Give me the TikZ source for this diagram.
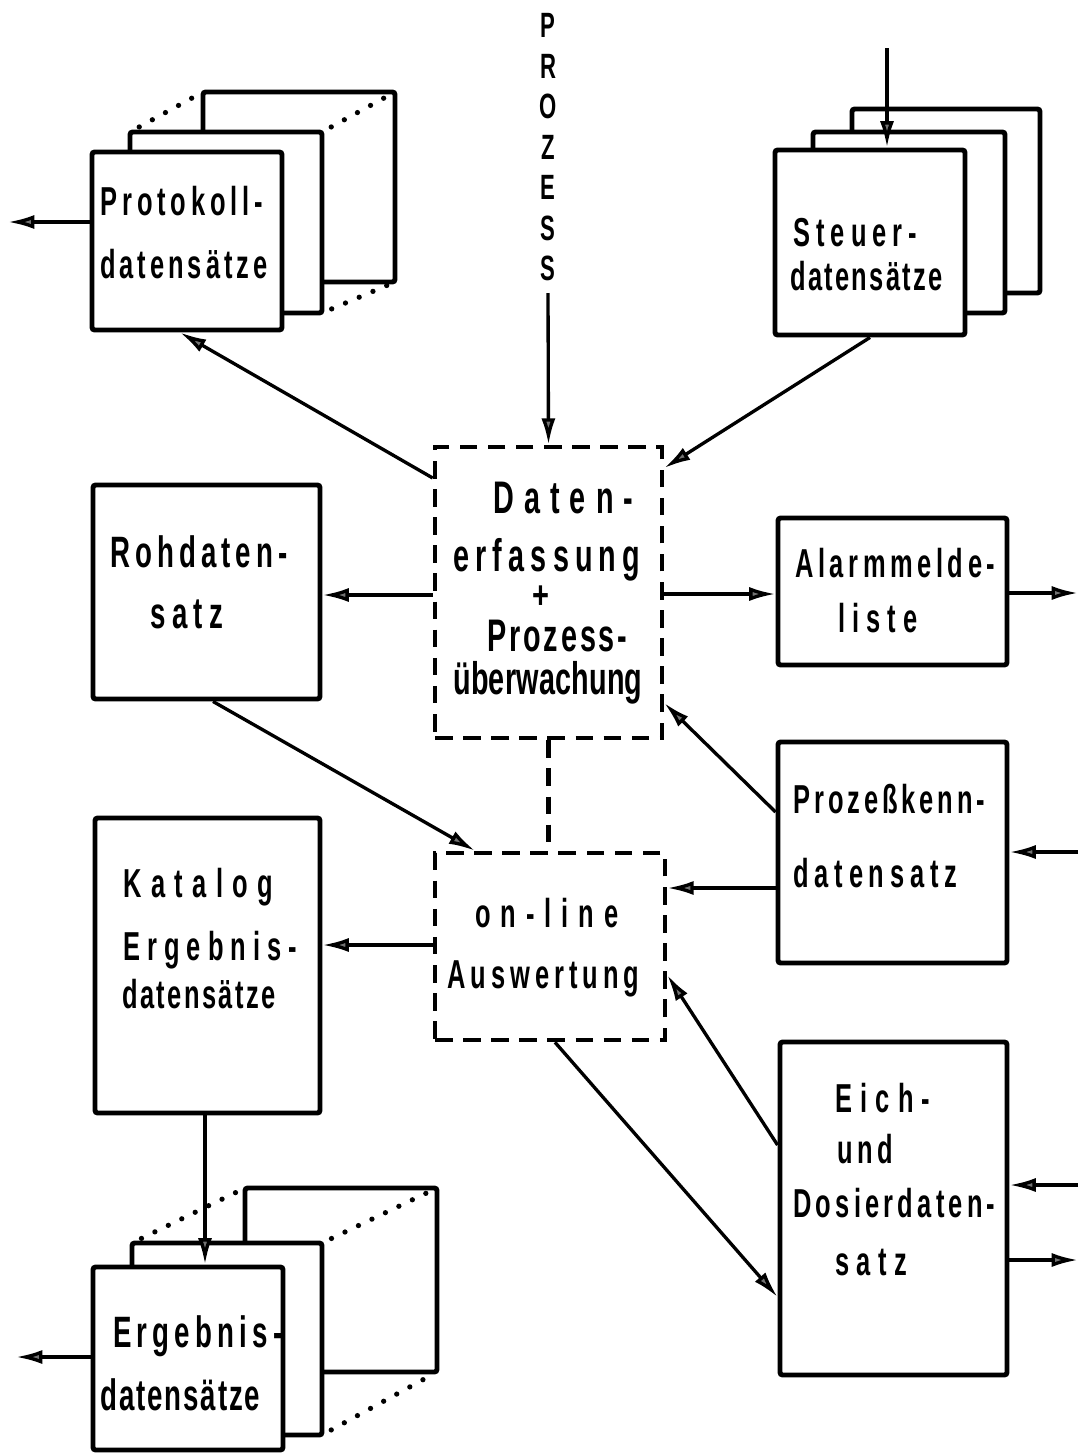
\documentclass[tikz,border=0pt]{standalone}
\usepackage{fontspec}
\setmainfont{Liberation Sans}
\usetikzlibrary{arrows.meta,fit}

% one drawing unit, and the same unit before the horizontal squeeze
\newdimen\pxu \pxu=0.02cm
\newdimen\pxs \pxs=0.031746cm
% set a word, condensed, in a box of given width with its letters spread evenly
\makeatletter
\def\spreadto#1#2{\scalebox{0.63}[1]{\hbox to #1\pxs{\spr@first#2\relax}}}
\def\spr@first#1{#1\spr@loop}
\def\spr@loop#1{\ifx\relax#1\else\hskip 0pt plus 1fil minus 1fil\relax #1\expandafter\spr@loop\fi}
\makeatother

\begin{document}
\begin{tikzpicture}[x=0.02cm, y=-0.02cm,
  box/.style={draw, line width=2.8pt, fill=white, inner sep=0pt, rounded corners=1.5pt},
  dbox/.style={draw, line width=2.6pt, dash pattern=on 10pt off 6pt, inner sep=0pt},
  dline/.style={line width=2.4pt, dash pattern=on 10pt off 6pt},
  conn/.style={line width=1.9pt},
  arr/.style={conn, -{Latex[length=15pt,width=8pt,fill=black!55]}},
  dots/.style={line width=3pt, line cap=round, dash pattern=on 0pt off 8.5pt, shorten <=6pt, shorten >=5pt},
  lbl/.style={inner sep=0pt, anchor=base west, font=\fontsize{23}{27}\selectfont\bfseries},
  big/.style={lbl, font=\fontsize{26}{30}\selectfont\bfseries},
  mid/.style={lbl, font=\fontsize{25}{29}\selectfont\bfseries},
]
\fill[white] (0,0) rectangle (1080,1454);
\useasboundingbox (0,0) rectangle (1080,1454);

% ---- Protokoll stack ----
\node[box, fit={(203,92) (395,282)}] (protb) {};
\draw[dots] (130,132) -- (203,92);
\draw[dots] (322,132) -- (395,92);
\draw[dots] (322,313) -- (395,282);
\node[box, fit={(130,132) (322,313)}] (protm) {};
\node[box, fit={(92,152) (282,330)}] (prot) {};
\node[lbl] (prot1) at (100,215) {\spreadto{163}{Protokoll-}};
\node[lbl] (prot2) at (100,278) {\spreadto{167}{datensätze}};

% ---- Steuer stack ----
\node[box, fit={(852,109) (1040,293)}] (steub) {};
\node[box, fit={(813,132) (1005,313)}] (steum) {};
\node[box, fit={(775,150) (965,335)}] (steu) {};
\node[lbl] (steu1) at (793,246) {\spreadto{124}{Steuer-}};
\node[lbl] (steu2) at (790,290) {\spreadto{152}{datensätze}};

% ---- process input ----
\node[inner sep=0pt, anchor=north, font=\fontsize{20}{23.05}\selectfont\bfseries]
  (proz) at (548,9) {\scalebox{0.63}[1]{\begin{tabular}{@{}c@{}}P\\R\\O\\Z\\E\\S\\S\end{tabular}}};

% ---- central processing boxes ----
\node[dbox, fit={(435,447) (662,738)}] (daten) {};
\node[big] (dat1) at (493,513) {\spreadto{140}{Daten-}};
\node[big] (dat2) at (453,571) {\spreadto{187}{erfassung}};
\node[inner sep=0pt, font=\fontsize{22}{24}\selectfont\bfseries] (dat3) at (541,597) {\scalebox{0.75}[1]{+}};
\node[big] (dat4) at (487,651) {\spreadto{140}{Prozess-}};
\node[big] (dat5) at (453,694) {\spreadto{189}{überwachung}};

\node[dbox, fit={(435,853) (665,1040)}] (online) {};
\node[lbl] (onl1) at (475,927) {\spreadto{143}{on-line}};
\node[lbl] (onl2) at (447,988) {\spreadto{192}{Auswertung}};

% ---- data sets ----
\node[box, fit={(93,485) (320,699)}] (roh) {};
\node[mid] (roh1) at (110,567) {\spreadto{177}{Rohdaten-}};
\node[mid] (roh2) at (150,628) {\spreadto{73}{satz}};

\node[box, fit={(778,518) (1007,665)}] (alarm) {};
\node[lbl] (ala1) at (795,577) {\spreadto{200}{Alarmmelde-}};
\node[lbl] (ala2) at (838,632) {\spreadto{79}{liste}};

\node[box, fit={(778,742) (1007,963)}] (pk) {};
\node[lbl] (pk1) at (793,813) {\spreadto{192}{Prozeßkenn-}};
\node[lbl] (pk2) at (793,887) {\spreadto{164}{datensatz}};

\node[box, fit={(95,818) (320,1113)}] (kat) {};
\node[lbl] (kat1) at (123,897) {\spreadto{150}{Katalog}};
\node[lbl] (kat2) at (123,960) {\spreadto{174}{Ergebnis-}};
\node[lbl] (kat3) at (122,1008) {\spreadto{153}{datensätze}};

\node[box, fit={(780,1042) (1007,1375)}] (eich) {};
\node[lbl] (eich1) at (835,1112) {\spreadto{95}{Eich-}};
\node[lbl] (eich2) at (837,1163) {\spreadto{56}{und}};
\node[lbl] (eich3) at (793,1217) {\spreadto{202}{Dosierdaten-}};
\node[lbl] (eich4) at (835,1275) {\spreadto{72}{satz}};

% ---- Ergebnis stack ----
\node[box, fit={(245,1188) (437,1372)}] (ergb) {};
\draw[dots] (132,1243) -- (245,1188);
\draw[dots] (322,1243) -- (437,1188);
\draw[dots] (322,1435) -- (437,1372);
\node[box, fit={(132,1243) (322,1435)}] (ergm) {};
\node[box, fit={(93,1267) (283,1450)}] (erg) {};
\node[mid] (erg1) at (113,1347) {\spreadto{169}{Ergebnis-}};
\node[mid] (erg2) at (100,1410) {\spreadto{160}{datensätze}};

% ---- connectors ----
\coordinate (protout) at (8,222);
\coordinate (prozin) at (548,293);
\coordinate (steuin) at (887,48);
\coordinate (alarmout) at (1078,593);
\coordinate (pkin) at (1078,852);
\coordinate (ergout) at (16,1357);
\coordinate (eichin) at (1078,1185);
\coordinate (eichout) at (1078,1260);

\draw[arr] (prot.west |- 0,222) -- (protout);
\draw[arr] (daten.west |- 0,478) -- (180,0 |- prot.south);
\draw[arr] (prozin) -- (daten.north);
\draw[arr] (steuin) -- (887,0 |- steu.north);
\draw[arr] (870,0 |- steu.south) -- (daten.east |- 0,468);
\draw[arr] (daten.west |- 0,595) -- (roh.east |- 0,595);
\draw[arr] (daten.east |- 0,594) -- (alarm.west |- 0,594);
\draw[arr] (alarm.east |- 0,593) -- (alarmout);
\draw[arr] (pk.west |- 0,812) -- (daten.east |- 0,703);
\draw[arr] (pk.west |- 0,888) -- (online.east |- 0,888);
\draw[arr] (pkin) -- (pk.east |- 0,852);
\draw[arr] (213,0 |- roh.south) -- (475,0 |- online.north);
\draw[dline] (daten.south) -- (daten.south |- online.north);
\draw[arr] (online.west |- 0,945) -- (kat.east |- 0,945);
\draw[arr] (205,0 |- kat.south) -- (205,0 |- erg.north);
\draw[arr] (erg.west |- 0,1357) -- (ergout);
\draw[arr] (555,0 |- online.south) -- (eich.west |- 0,1297);
\draw[arr] (eich.west |- 0,1145) -- (online.east |- 0,975);
\draw[arr] (eichin) -- (eich.east |- 0,1185);
\draw[arr] (eich.east |- 0,1260) -- (eichout);
\end{tikzpicture}
\end{document}
